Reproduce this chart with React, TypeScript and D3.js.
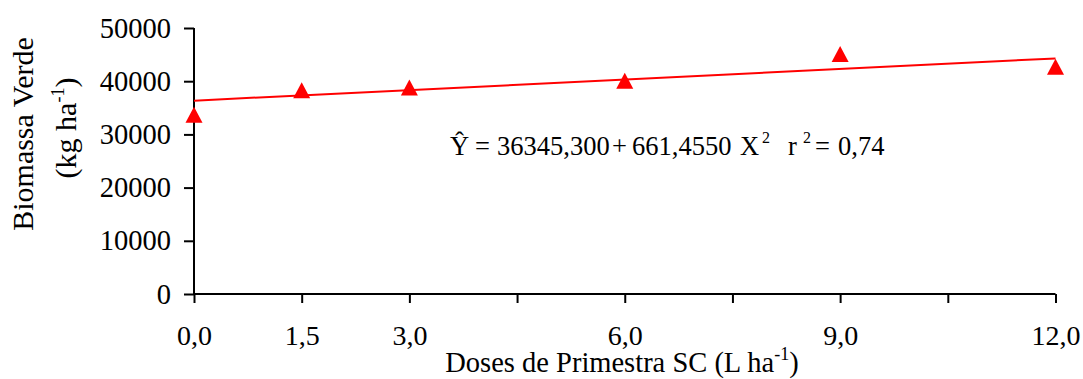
import React, { useRef, useEffect } from 'react';
import * as d3 from 'd3';

const doses = [0, 1.5, 3, 6, 9, 12];
const biomassa = [33700, 38300, 38800, 40100, 45100, 42700];
const xTicks = [0, 1.5, 3, 4.5, 6, 7.5, 9, 10.5, 12];
const xLabels: Record<string, string> = { '0': '0,0', '1.5': '1,5', '3': '3,0', '6': '6,0', '9': '9,0', '12': '12,0' };
const yTicks = [0, 10000, 20000, 30000, 40000, 50000];
const intercept = 36345.3;
const slope = 661.455;

const FONT = '"Liberation Serif", "Times New Roman", serif';

// equation pieces: [text, x, superscript?]
const eqParts: [string, number, boolean][] = [
    ['Ŷ', 450, false],
    ['=', 475, false],
    ['36345,300', 497, false],
    ['+', 612, false],
    ['661,4550', 632, false],
    ['X', 740, false],
    ['2', 762, true],
    ['r', 788, false],
    ['2', 803, true],
    ['=', 815, false],
    ['0,74', 838, false],
];

const App = () => {
    const ref = useRef<SVGSVGElement>(null);

    useEffect(() => {
        const svg = d3.select(ref.current);
        svg.selectAll('*').remove();

        const x = d3.scaleLinear().domain([0, 12]).range([194, 1055.5]);
        const y = d3.scaleLinear().domain([0, 50000]).range([294, 28]);

        // y axis
        const gy = svg.append('g')
            .attr('transform', 'translate(194,0)')
            .call(d3.axisLeft(y).tickValues(yTicks).tickSize(10).tickPadding(13).tickFormat(d => String(d)));
        gy.select('.domain').attr('stroke', '#000').attr('stroke-width', 2).attr('d', `M0,${y(50000)}V${y(0)}`);
        gy.selectAll('.tick line').attr('stroke', '#000').attr('stroke-width', 2);
        gy.selectAll('.tick text').attr('font-family', FONT).attr('font-size', 28.5).attr('fill', '#000');

        // x axis
        const gx = svg.append('g')
            .attr('transform', 'translate(0,294)')
            .call(d3.axisBottom(x).tickValues(xTicks).tickSize(9).tickPadding(22)
                .tickFormat(d => xLabels[String(d)] ?? ''));
        gx.select('.domain').attr('stroke', '#000').attr('stroke-width', 2).attr('d', `M${x(0)},0H${x(12)}`);
        gx.selectAll('.tick line').attr('stroke', '#000').attr('stroke-width', 2);
        gx.selectAll('.tick text').attr('font-family', FONT).attr('font-size', 28).attr('fill', '#000');

        // regression line
        const line = d3.line<number>().x(d => x(d)).y(d => y(intercept + slope * d));
        svg.append('path')
            .datum([0, 12])
            .attr('d', line)
            .attr('fill', 'none')
            .attr('stroke', '#ff0000')
            .attr('stroke-width', 2);

        // markers
        svg.selectAll('path.pt')
            .data(doses.map((d, i) => [d, biomassa[i]]))
            .enter()
            .append('path')
            .attr('class', 'pt')
            .attr('d', d => {
                const cx = x(d[0]);
                const cy = y(d[1]);
                return `M${cx},${cy - 8}L${cx + 8.5},${cy + 8}L${cx - 8.5},${cy + 8}Z`;
            })
            .attr('fill', '#ff0000');

        // equation
        const eq = svg.append('text')
            .attr('font-family', FONT).attr('font-size', 26.5).attr('fill', '#000');
        eqParts.forEach(([t, px, sup]) => {
            eq.append('tspan')
                .attr('x', px)
                .attr('y', sup ? 143 : 155)
                .attr('font-size', sup ? 16 : null)
                .text(t);
        });

        // axis titles
        const xt = svg.append('text')
            .attr('x', 622).attr('y', 372).attr('text-anchor', 'middle')
            .attr('font-family', FONT).attr('font-size', 28.5).attr('fill', '#000');
        xt.append('tspan').text('Doses de Primestra SC (L ha');
        xt.append('tspan').attr('font-size', 18).attr('dy', -12).text('-1');
        xt.append('tspan').attr('dy', 12).text(')');

        const yt = svg.append('g').attr('transform', 'rotate(-90)')
            .attr('font-family', FONT).attr('font-size', 30).attr('fill', '#000').attr('text-anchor', 'middle');
        yt.append('text').attr('x', -134).attr('y', 33).text('Biomassa Verde');
        const yt2 = yt.append('text').attr('x', -128).attr('y', 76);
        yt2.append('tspan').text('(kg ha');
        yt2.append('tspan').attr('font-size', 18).attr('dy', -12).text('-1');
        yt2.append('tspan').attr('dy', 12).text(')');
    }, []);

    return (
        <svg ref={ref} width={1083} height={379}
            style={{ position: 'absolute', left: 0, top: 0, background: 'white' }} />
    );
};

export default App;
